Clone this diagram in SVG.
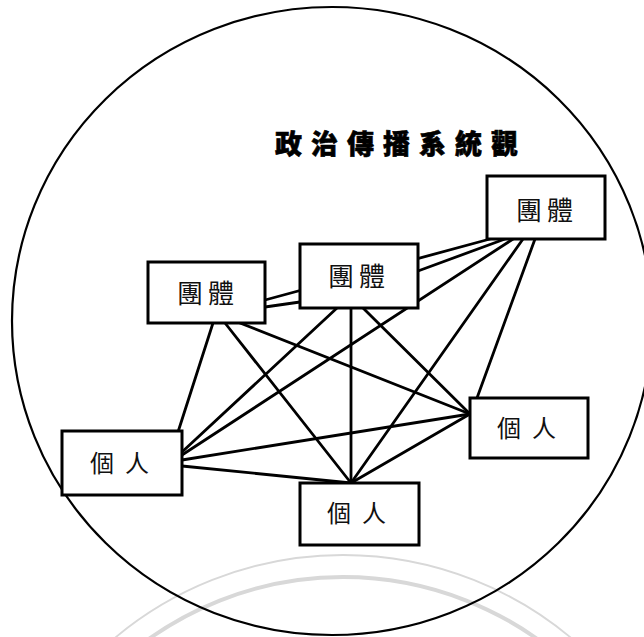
<svg xmlns="http://www.w3.org/2000/svg" width="644" height="637" viewBox="0 0 644 637">
<style>
.box{fill:#fff;stroke:#000;stroke-width:3}
.lbl{font-family:"Noto Sans CJK TC","Noto Sans CJK SC",sans-serif;font-weight:400;fill:#111}
.g{font-size:26px;letter-spacing:5px}
.p{font-size:24px;letter-spacing:11px}
.title{font-family:"Noto Sans CJK TC","Noto Sans CJK SC",sans-serif;font-weight:900;font-size:27px;letter-spacing:9px;fill:#000;stroke:#000;stroke-width:0.6}
#connectors line{stroke:#000;stroke-width:2.8;stroke-linecap:round}
</style>
<rect width="644" height="637" fill="#fff"/>
<g id="watermark" fill="none" stroke="#d8d8d8">
<circle cx="343" cy="910" r="355" stroke-width="1.8"/>
<circle cx="343" cy="912" r="335" stroke-width="4"/>
</g>
<ellipse id="boundary" cx="332" cy="321" rx="320" ry="314" fill="none" stroke="#000" stroke-width="2.2"/>
<text class="title" x="275" y="154">政治傳播系統觀</text>
<g id="connectors">
<line x1="265" y1="307" x2="300" y2="302"/>
<line x1="265" y1="300" x2="490" y2="239"/>
<line x1="418" y1="271" x2="505" y2="239"/>
<line x1="213" y1="323" x2="178" y2="432"/>
<line x1="225" y1="323" x2="351" y2="483"/>
<line x1="240" y1="323" x2="470" y2="414"/>
<line x1="337" y1="308" x2="182" y2="452"/>
<line x1="351" y1="308" x2="351" y2="483"/>
<line x1="363" y1="308" x2="470" y2="414"/>
<line x1="513" y1="239" x2="182" y2="455"/>
<line x1="523" y1="239" x2="351" y2="483"/>
<line x1="535" y1="239" x2="477" y2="398"/>
<line x1="182" y1="466" x2="351" y2="483"/>
<line x1="182" y1="460" x2="470" y2="414"/>
<line x1="351" y1="483" x2="470" y2="414"/>
</g>
<g id="groupA"><rect class="box" x="148" y="262" width="117" height="61"/><text class="lbl g" x="177" y="303">團體</text></g>
<g id="groupB"><rect class="box" x="300" y="244" width="118" height="64"/><text class="lbl g" x="328" y="286">團體</text></g>
<g id="groupC"><rect class="box" x="487" y="176" width="118" height="63"/><text class="lbl g" x="516" y="220">團體</text></g>
<g id="personD"><rect class="box" x="62" y="431" width="120" height="64"/><text class="lbl p" x="90" y="472">個人</text></g>
<g id="personE"><rect class="box" x="300" y="483" width="119" height="62"/><text class="lbl p" x="327" y="522">個人</text></g>
<g id="personF"><rect class="box" x="470" y="398" width="118" height="60"/><text class="lbl p" x="497" y="437">個人</text></g>
</svg>
